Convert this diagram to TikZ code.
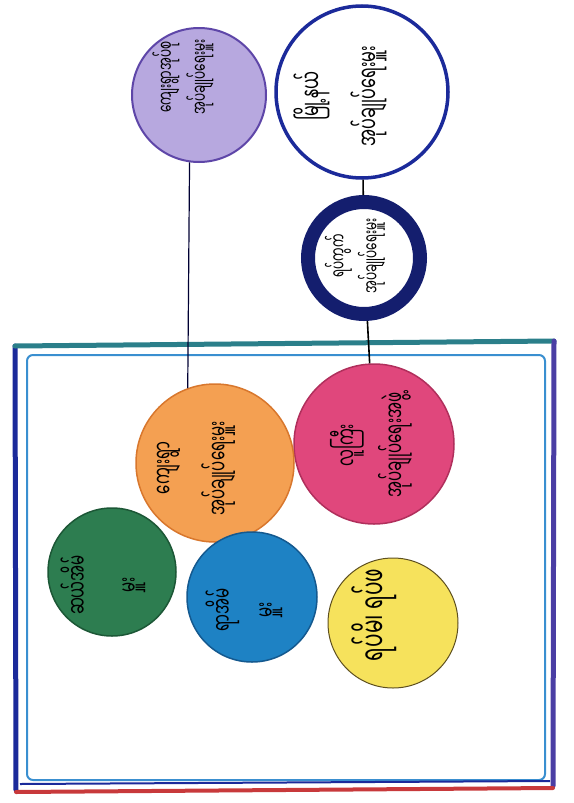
\documentclass[tikz,border=0pt]{standalone}
\usepackage{graphicx}
\usepackage{fontspec}
\newfontfamily\myan[Script=Myanmar]{Noto Sans Myanmar UI}
\usetikzlibrary{positioning}
\definecolor{inkblue}{HTML}{1B2A9A}
\definecolor{ringblue}{HTML}{141E6E}
\definecolor{lilac}{HTML}{B7A8DF}
\definecolor{lilacedge}{HTML}{5E46A8}
\definecolor{rose}{HTML}{E0477C}
\definecolor{roseedge}{HTML}{B02F5C}
\definecolor{peach}{HTML}{F4A052}
\definecolor{peachedge}{HTML}{D8772D}
\definecolor{leaf}{HTML}{2D7D50}
\definecolor{leafedge}{HTML}{1C5736}
\definecolor{sea}{HTML}{1E82C4}
\definecolor{seaedge}{HTML}{14598F}
\definecolor{lemon}{HTML}{F6E25C}
\definecolor{lemonedge}{HTML}{5E5020}
\definecolor{boxteal}{HTML}{2B7F8A}
\definecolor{boxred}{HTML}{C8393B}
\definecolor{boxlight}{HTML}{3A8FD0}
% handwriting is taller than the font
\newcommand{\tall}[1]{\scalebox{1}[1.7]{#1}}

\begin{document}
\begin{tikzpicture}[x=1pt, y=-1pt,
    ball/.style={circle, inner sep=0pt, minimum size=#1},
    lbl/.style n args={2}{rotate=90, align=center, inner sep=0pt,
      font={\myan\fontsize{#1}{#2}\selectfont}}]
  \useasboundingbox (0,0) rectangle (573,803);
  % the big frame
  \draw[boxlight, line width=2pt, rounded corners=6pt] (27,355) rectangle (545,780);
  \draw[inkblue, line width=5pt, line cap=round] (16,790) -- (15,346);
  \draw[boxteal, line width=5pt, line cap=round] (15,346) -- (554,341);
  \draw[lilacedge!70!inkblue, line width=5pt, line cap=round] (554,341) -- (553,786);
  \draw[boxred, line width=4pt, line cap=round] (553,788) -- (16,792);
  \draw[inkblue, line width=2pt] (20,784) -- (550,781);

  % outside the frame
  \node[ball=172pt, draw=inkblue, line width=3.5pt, fill=white] (office) at (362,92) {};
  \node[ball=134pt, draw=lilacedge, line width=2pt, fill=lilac] (tract) at (199,95) {};
  \node[ball=112pt, draw=ringblue, line width=14pt, fill=white] (ward) at (364,258) {};

  % inside the frame
  \node[ball=160pt, draw=roseedge, line width=1.5pt, fill=rose] (elder) at (374,444) {};
  \node[ball=158pt, draw=peachedge, line width=1.5pt, fill=peach] (village) at (215,463) {};
  \node[ball=128pt, draw=leafedge, line width=1.5pt, fill=leaf] (ten) at (112,572) {};
  \node[ball=130pt, draw=seaedge, line width=1.5pt, fill=sea] (hundred) at (252,597) {};
  \node[ball=130pt, draw=lemonedge, line width=1pt, fill=lemon] (elders) at (393,623) {};

  \draw[line width=1.6pt] (office) -- (ward);
  \draw[line width=1.6pt] (ward) -- (elder);
  \draw[line width=1.2pt, black!80!blue] (tract.-98) -- (village.110);

  \node[lbl={16}{57}] (officetext) at (340,96) {\tall{မြို့နယ်}\\\tall{အုပ်ချုပ်ရေးမှူး}};
  \node[lbl={12}{34}] (tracttext) at (183,77) {\tall{ကျေးရွာအုပ်စု}\\\tall{အုပ်ချုပ်ရေးမှူး}};
  \node[lbl={12}{33}] (wardtext) at (355,256) {\tall{ရပ်ကွက်}\\\tall{အုပ်ချုပ်ရေးမှူး}};
  \node[lbl={15}{48}] (eldertext) at (371,445) {\tall{လူကြီး}\\\tall{အုပ်ချုပ်ရေးအဖွဲ့}};
  \node[lbl={15}{55}] (villagetext) at (196,468) {\tall{ကျေးရွာ}\\\tall{အုပ်ချုပ်ရေးမှူး}};
  \node[lbl={15}{51}] (tentext) at (103,585) {\tall{ဆယ်အိမ်}\\\tall{မှူး}};
  \node[lbl={15}{43}] (hundredtext) at (244,610) {\tall{ရာအိမ်}\\\tall{မှူး}};
  \node[lbl={20}{30}] (elderstext) at (374,615) {\tall{ရပ်မိ၊ ရပ်ဖ}};
\end{tikzpicture}
\end{document}
